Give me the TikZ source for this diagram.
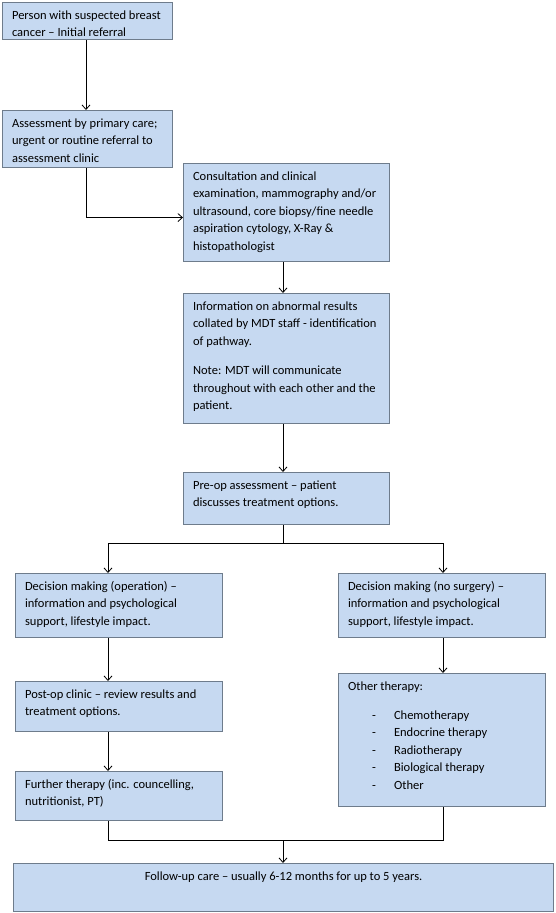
\documentclass[tikz,border=0pt]{standalone}
\usepackage{fontspec}
\setmainfont{Carlito}
\usetikzlibrary{arrows.meta,calc}
\definecolor{boxfill}{HTML}{C6D9F1}
\definecolor{boxline}{HTML}{6E7C8C}
\tikzset{
  boxst/.style={draw=boxline, line width=1.1pt, fill=boxfill, inner sep=0pt,
    font=\fontsize{12.5}{17.5}\selectfont},
  arr/.style={-{Straight Barb[length=4.5pt,width=8pt]}, line width=0.8pt},
  ln/.style={line width=0.8pt}
}
\newcommand\flowbox[6]{%
  \node[boxst, anchor=north west] (#1) at (#2,#3)
  {\parbox[c][\dimexpr #5pt-#3pt\relax][t]{\dimexpr #4pt-#2pt\relax}{\raggedright\leftskip=9.5pt\vspace*{4.5pt}\strut #6}};}
\newcommand\listitem[1]{\makebox[46pt][l]{\hspace*{24pt}-}#1}
\begin{document}
\begin{tikzpicture}[x=1pt,y=-1pt]
\useasboundingbox (0,0) rectangle (556,913);
\flowbox{b1}{2}{2}{172}{39}{Person with suspected breast\\cancer -- Initial referral}
\flowbox{b2}{2}{110}{172}{167}{Assessment by primary care;\\urgent or routine referral to\\assessment clinic}
\flowbox{b3}{183}{163}{389}{261}{Consultation and clinical\\examination, mammography and/or\\ultrasound, core biopsy/fine needle\\aspiration cytology, X-Ray \&\\histopathologist}
\flowbox{b4}{183}{293}{389}{423}{Information on abnormal results\\collated by MDT staff - identification\\of pathway.\par\vspace{12pt}Note: MDT will communicate\\throughout with each other and the\\patient.}
\flowbox{b5}{183}{472}{389}{524}{Pre-op assessment -- patient\\discusses treatment options.}
\flowbox{b6}{15}{573}{222}{637}{Decision making (operation) --\\information and psychological\\support, lifestyle impact.}
\flowbox{b7}{338}{573}{545}{637}{Decision making (no surgery) --\\information and psychological\\support, lifestyle impact.}
\flowbox{b8}{15}{681}{222}{731}{Post-op clinic -- review results and\\treatment options.}
\flowbox{b9}{15}{771}{222}{820}{Further therapy (inc. councelling,\\nutritionist, PT)}
\flowbox{b10}{338}{673}{545}{806}{Other therapy:\par\vspace{11.5pt}%
\listitem{Chemotherapy}\\
\listitem{Endocrine therapy}\\
\listitem{Radiotherapy}\\
\listitem{Biological therapy}\\
\listitem{Other}}
\flowbox{b11}{13}{863}{553}{911}{\centering Follow-up care -- usually 6-12 months for up to 5 years.}
% connectors
\coordinate (sp) at (283,543);
\coordinate (spl) at (108,543);
\coordinate (spr) at (443,543);
\coordinate (mg) at (283,840);
\coordinate (mgl) at (108,840);
\coordinate (mgr) at (443,840);
\coordinate (lx) at (108,0);
\draw[arr] (b1.south -| 86,0) -- (b2.north -| 86,0);
\draw[arr] (b2.south -| 86,0) |- ([yshift=-5pt]b3.west);
\draw[arr] (b3.south -| 283,0) -- (b4.north -| 283,0);
\draw[arr] (b4.south -| 283,0) -- (b5.north -| 283,0);
\draw[ln] (b5.south -| 283,0) -- (sp);
\draw[ln] (spl) -- (spr);
\draw[arr] (spl) -- (b6.north -| lx);
\draw[arr] (spr) -- (b7.north -| spr);
\draw[arr] (b6.south -| lx) -- (b8.north -| lx);
\draw[arr] (b8.south -| lx) -- (b9.north -| lx);
\draw[arr] (b7.south -| spr) -- (b10.north -| spr);
\draw[ln] (b9.south -| lx) -- (mgl) -- (mgr) -- (b10.south -| mgr);
\draw[arr] (mg) -- (b11.north -| mg);
\end{tikzpicture}
\end{document}
